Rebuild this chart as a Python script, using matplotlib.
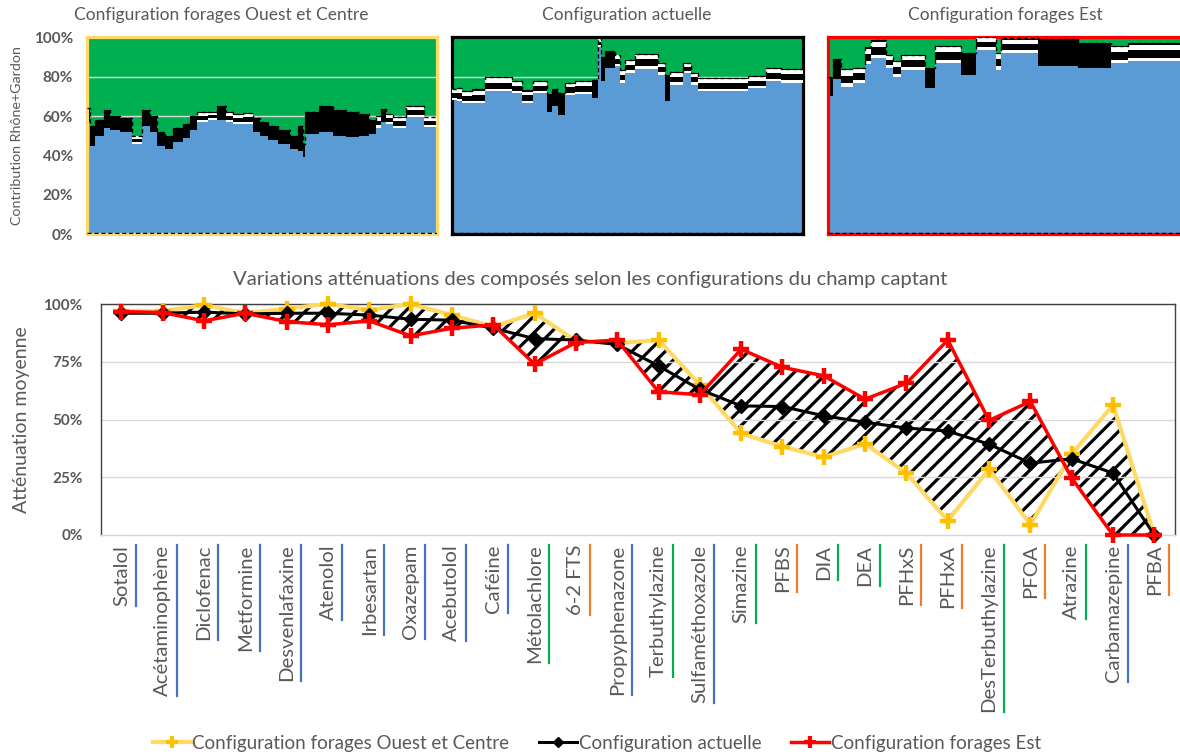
import numpy as np
import matplotlib
matplotlib.use('Agg')
import matplotlib.pyplot as plt
from matplotlib.lines import Line2D
from matplotlib.ticker import FuncFormatter

plt.rcParams['font.family'] = ['Lato', 'DejaVu Sans']
plt.rcParams['hatch.linewidth'] = 2.3

# --- Contribution Rhône+Gardon (%), lue sur les trois graphes du haut ---
# pas de temps de début de palier, haut de la bande noire, haut de la zone bleue
p1_x = [0, 8, 25, 50, 70, 100, 135, 165, 190, 210, 235, 260, 290, 310, 330, 365, 390, 420, 440, 470,
        500, 520, 545, 575, 610, 635, 650, 655, 700, 740, 780, 820, 850, 870, 885, 900, 920, 960, 1015]
p1_top = [64, 55, 58, 63, 60, 59, 50, 63, 60, 52, 50, 54, 56, 60, 62, 62, 65, 62, 61, 61.5,
          59, 57, 55, 53, 50, 55, 46, 62, 65, 63, 62, 61, 58, 60, 63.5, 61, 59.5, 65, 59.7]
p1_blue = [57, 45, 50, 54, 53, 52, 46, 55, 52, 45, 43, 47, 49, 53, 57, 58, 58, 57, 56, 56,
           52, 50, 48, 46, 43, 42, 39, 51, 52, 50, 49.5, 50, 51, 54, 57, 56, 54, 59.3, 54.2]
p1_fin = 1054

p2_x = [0, 15, 30, 60, 100, 180, 210, 245, 285, 300, 320, 340, 370, 420, 438, 448, 460, 490, 505, 520,
        550, 620, 640, 655, 695, 720, 740, 890, 945, 990]
p2_top = [74, 74.5, 72.5, 73.5, 79.7, 77.6, 73, 77.6, 71, 74, 71.6, 77, 78, 78.5, 99.5, 90, 93, 91.3, 83.6, 88.7,
          91.8, 87, 81, 82.2, 87, 82, 79.3, 80.2, 84.4, 84]
p2_blue = [68, 67.5, 66.5, 66.5, 72.5, 71.5, 66.5, 71.6, 62, 65, 60.5, 70.5, 71, 69, 95, 78, 84.5, 85.3, 76.8, 82,
           84, 81, 67.5, 76, 81.9, 76, 72.5, 74.2, 77.6, 76.8]
p2_fin = 1056

p3_x = [0, 15, 40, 75, 110, 130, 175, 195, 220, 290, 320, 400, 445, 505, 520, 630, 750, 850, 900]
p3_top = [80, 89, 84, 84.5, 95, 98.5, 91.3, 88, 91.3, 84.4, 95.6, 92.3, 100, 92.3, 99.5, 99, 97, 95.6, 97]
p3_blue = [70, 79, 75, 77, 86.5, 89.5, 84.4, 80, 83.6, 74.2, 87, 81, 93.8, 83.6, 92, 85.3, 84.5, 87, 87.9]
p3_fin = 1062

# --- Atténuation moyenne (%) par composé ---
composes = ['Sotalol', 'Acétaminophène', 'Diclofenac', 'Metformine', 'Desvenlafaxine', 'Atenolol',
            'Irbesartan', 'Oxazepam', 'Acebutolol', 'Caféine', 'Métolachlore', '6-2 FTS',
            'Propyphenazone', 'Terbuthylazine', 'Sulfaméthoxazole', 'Simazine', 'PFBS', 'DIA', 'DEA',
            'PFHxS', 'PFHxA', 'DesTerbuthylazine', 'PFOA', 'Atrazine', 'Carbamazepine', 'PFBA']
familles = ['pharma'] * 10 + ['pesticide', 'pfas', 'pharma', 'pesticide', 'pharma', 'pesticide',
                              'pfas', 'pesticide', 'pesticide', 'pfas', 'pfas', 'pesticide', 'pfas',
                              'pesticide', 'pharma', 'pfas']
att_ouest = [97, 97, 99.5, 96, 98, 100, 97.4, 100, 95.2, 90.2, 96, 84, 83, 84.4, 65, 44, 38.3, 33.7,
             39.5, 26.8, 6.2, 28.5, 4.5, 35, 56.3, 0]
att_actuelle = [96, 96, 96.5, 95.7, 96, 96, 95.2, 93.4, 93, 89.5, 85, 84.4, 82.5, 73.2, 63, 55.9,
                55.6, 51.6, 48.8, 46.3, 45, 39.3, 31.1, 33, 26.8, 0]
att_est = [96.7, 96.3, 92.7, 96, 92.4, 91, 92.7, 86.2, 89.5, 91, 74, 83.3, 84.4, 62, 60.7, 80.4,
           72.6, 68.9, 58.8, 65.7, 84.4, 49.6, 57.8, 24.6, 0, 0]

series = ['Configuration forages Ouest et Centre', 'Configuration actuelle', 'Configuration forages Est']

GRIS = '#595959'
BLEU = '#5B9BD5'
VERT = '#00B050'
COUL_FAM = {'pharma': '#4472C4', 'pesticide': '#00B050', 'pfas': '#ED7D31'}
pct = FuncFormatter(lambda v, _: f'{v:.0f}%')

W_PX, H_PX = 1180, 755
fig = plt.figure(figsize=(W_PX / 100, H_PX / 100), dpi=100)


def panneau(left, right, x, top, blue, fin, bord, seuil, titre, xtitre, etiquettes=False):
    ax = fig.add_axes([left / W_PX, 1 - 234 / H_PX, (right - left) / W_PX, 196.6 / H_PX])
    xs = np.append(x, fin)
    t = np.append(top, top[-1])
    b = np.append(blue, blue[-1])
    d = t - b
    calme = d < seuil
    ax.set_facecolor(VERT)
    ax.set_xlim(0, fin)
    ax.set_ylim(0, 100)
    ax.set_yticks(range(0, 101, 20))
    ax.set_xticks([])
    ax.grid(axis='y', color='#D9D9D9', lw=1)
    ax.set_axisbelow(True)
    ax.fill_between(xs, 0, b, step='post', color=BLEU, lw=0, zorder=2)
    ax.fill_between(xs, b, t, step='post', color='black', lw=0, zorder=2)
    # bandes blanches des séries empilées, visibles sur les paliers calmes
    ax.fill_between(xs, b, b + np.where(calme, 0.2 * d, 0), step='post', color='white', lw=0, zorder=3)
    ax.fill_between(xs, np.where(calme, b + 0.62 * d, t), np.where(calme, t - 0.08 * d, t),
                    step='post', color='white', lw=0, zorder=3)
    ax.plot(xs, t, drawstyle='steps-post', color='black', lw=1, ls=(0, (3, 2)), zorder=4)
    ax.axhline(0.6, color='black', lw=1, ls=(0, (3, 2)), zorder=4)
    for sp in ax.spines.values():
        sp.set_color(bord)
        sp.set_linewidth(2.3)
    if etiquettes:
        ax.yaxis.set_major_formatter(pct)
        ax.tick_params(axis='y', length=0, pad=10, labelsize=11, labelcolor=GRIS)
        for lab in ax.get_yticklabels():
            lab.set_fontweight('bold')
    else:
        ax.tick_params(axis='y', length=0, labelleft=False)
    fig.text(xtitre / W_PX, 1 - 15 / H_PX, titre, ha='center', va='center', fontsize=12.5, color=GRIS)
    return ax


panneau(87, 437, p1_x, p1_top, p1_blue, p1_fin, '#FFD966', 6.5, series[0], 221, etiquettes=True)
panneau(452, 803, p2_x, p2_top, p2_blue, p2_fin, 'black', 8.5, series[1], 627)
panneau(828, 1182, p3_x, p3_top, p3_blue, p3_fin, '#FF0000', 10, series[2], 1005)
fig.text(17 / W_PX, 1 - 136 / H_PX, 'Contribution Rhône+Gardon', rotation=90, ha='center',
         va='center', fontsize=10.3, color=GRIS)

# --- graphe du bas ---
ax = fig.add_axes([100.7 / W_PX, 1 - 535 / H_PX, 1074.3 / W_PX, 231 / H_PX])
x = np.arange(len(composes))
ax.set_xlim(-0.5, len(composes) - 0.5)
ax.set_ylim(0, 100)
ax.set_yticks([0, 25, 50, 75, 100])
ax.yaxis.set_major_formatter(pct)
ax.grid(axis='y', color='#D9D9D9', lw=1, zorder=0)

xf = np.linspace(0, len(composes) - 1, 2501)
yo = np.interp(xf, x, att_ouest)
ye = np.interp(xf, x, att_est)
ax.fill_between(xf, 0, np.minimum(yo, ye), color='white', lw=0, zorder=1)
ax.fill_between(xf, np.minimum(yo, ye), np.maximum(yo, ye), facecolor='white', edgecolor='black',
                hatch='//', lw=0, zorder=1.5)

ax.plot(x, att_ouest, color='#FFD966', lw=3, marker='+', ms=11, mew=3.2, mec='#FFC000',
        zorder=3, clip_on=False)
ax.plot(x, att_actuelle, color='black', lw=2.2, marker='D', ms=7, zorder=4, clip_on=False)
ax.plot(x, att_est, color='#FF0000', lw=2.5, marker='+', ms=11, mew=3.2, mec='#FF0000',
        zorder=5, clip_on=False)

ax.set_xticks(x)
ax.set_xticklabels(composes, rotation=90, fontsize=14.6, color=GRIS)
ax.tick_params(axis='x', length=0, pad=7)
ax.tick_params(axis='y', length=0, pad=13, labelsize=11, labelcolor=GRIS)
for lab in ax.get_yticklabels():
    lab.set_fontweight('bold')
for sp in ax.spines.values():
    sp.set_color('#404040')
    sp.set_linewidth(1)
ax.spines['bottom'].set_color('#D9D9D9')

fig.text(22 / W_PX, 1 - 420 / H_PX, 'Atténuation moyenne', rotation=90, ha='center', va='center',
         fontsize=14, color=GRIS)
fig.text(590 / W_PX, 1 - 280 / H_PX,
         'Variations atténuations des composés selon les configurations du champ captant',
         ha='center', va='center', fontsize=14.6, color=GRIS)

poignees = [Line2D([], [], color='#FFD966', lw=3, marker='+', ms=9, mew=3, mec='#FFC000'),
            Line2D([], [], color='black', lw=2.2, marker='D', ms=5),
            Line2D([], [], color='#FF0000', lw=2.5, marker='+', ms=9, mew=3)]
fig.legend(poignees, series, loc='center', bbox_to_anchor=(597 / W_PX, 1 - 743 / H_PX), ncol=3,
           frameon=False, fontsize=13.5, handlelength=2, handletextpad=0.1, columnspacing=1.6,
           labelcolor=GRIS)

# soulignement coloré des étiquettes selon la famille de composé
fig.canvas.draw()
rend = fig.canvas.get_renderer()
for lab, fam in zip(ax.get_xticklabels(), familles):
    bb = lab.get_window_extent(rend)
    xl = (bb.x1 + 6) / W_PX
    fig.add_artist(Line2D([xl, xl], [bb.y0 / H_PX, bb.y1 / H_PX], color=COUL_FAM[fam], lw=1.6,
                          transform=fig.transFigure))

fig.savefig('out.png', dpi=100)
